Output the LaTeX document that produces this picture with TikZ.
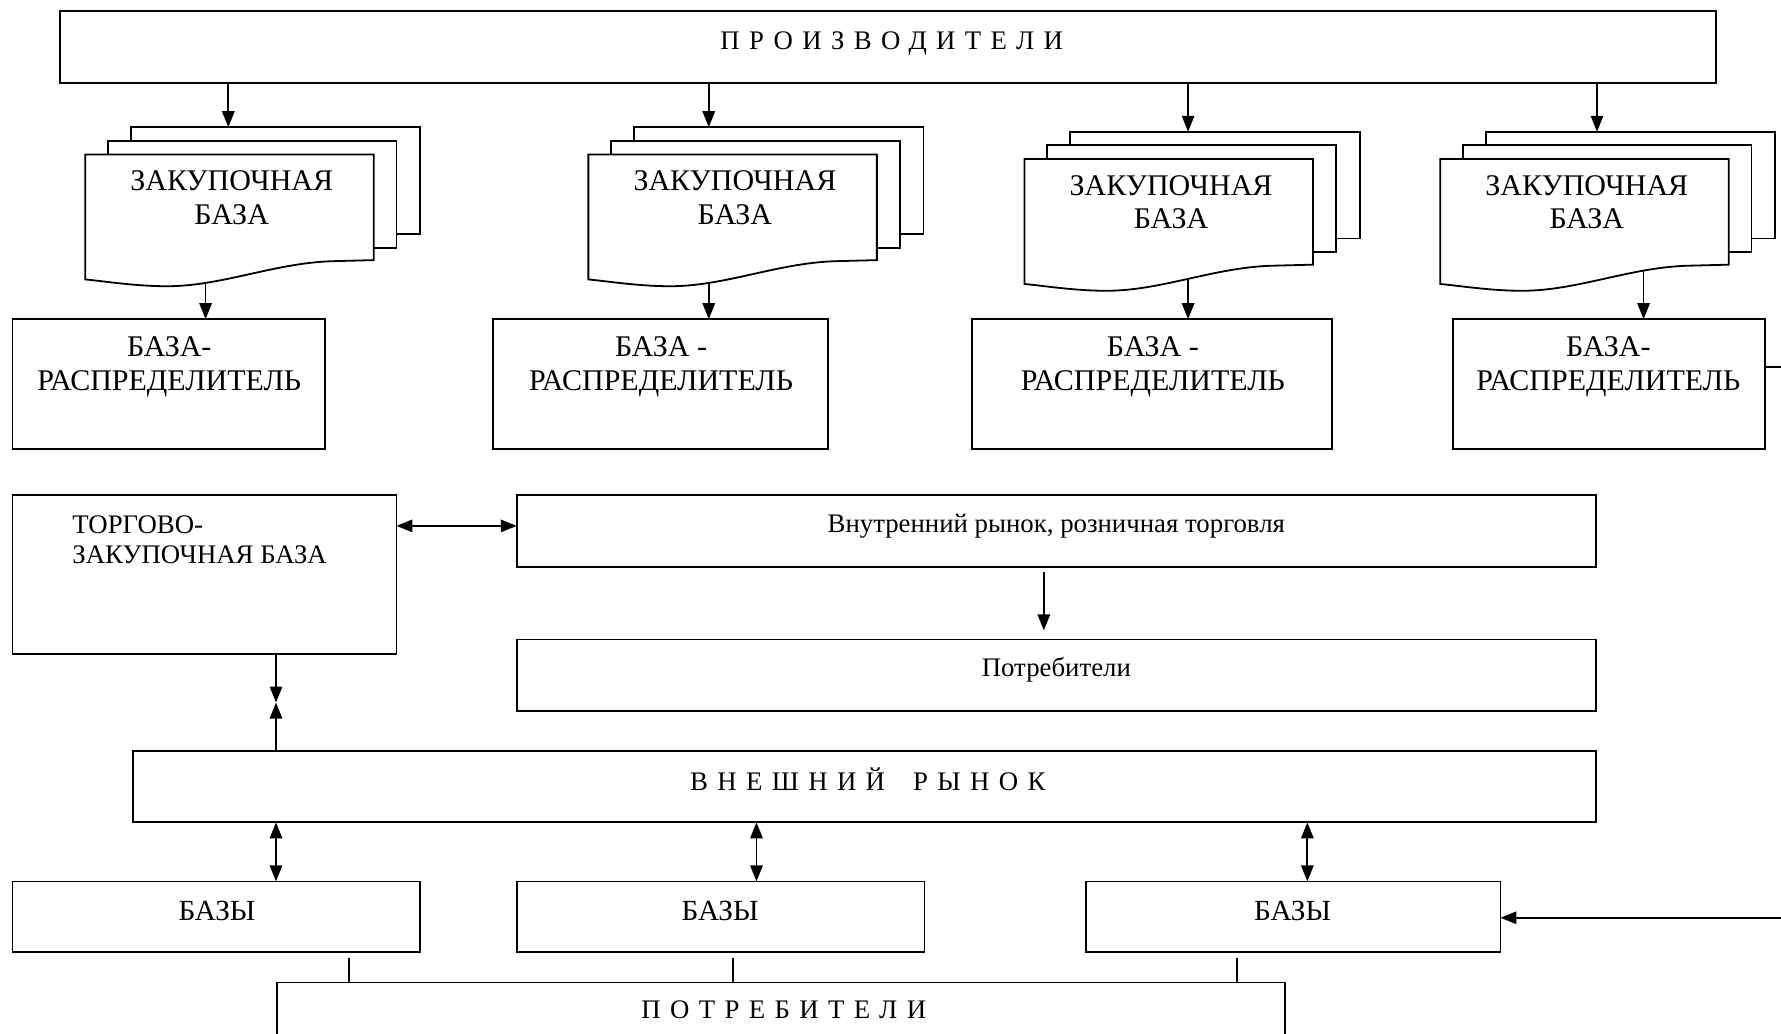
\documentclass[tikz,border=0pt]{standalone}
\usepackage{fontspec}
\setmainfont{Liberation Serif}
\newfontfamily\spaced[LetterSpace=35]{Liberation Serif}
\usetikzlibrary{arrows.meta,calc}
\newcommand\U{0.5679pt}
\newcommand\zbcard[2]{%
  \draw[fill=white] (#1+40,#2-24) rectangle (#1+295,#2+70);
  \draw[fill=white] (#1+20,#2-12) rectangle (#1+274,#2+82);
  \draw[fill=white] (#1,#2) -- (#1+254,#2) -- (#1+254,#2+93) -- (#1+216,#2+94)
    .. controls (#1+165,#2+96) and (#1+120,#2+116) .. (#1+72,#2+116)
    .. controls (#1+45,#2+116) and (#1+20,#2+112) .. (#1,#2+110) -- cycle;
}
\begin{document}
\begin{tikzpicture}[x=0.5679pt,y=-0.5679pt,
  line width=0.9pt,
  box/.style 2 args={draw, fill=white, inner sep=0pt, outer sep=0pt,
    minimum width=#1*\U, minimum height=#2*\U},
  big/.style={inner sep=0pt, align=center, font=\fontsize{15}{16.8}\selectfont},
  mid/.style={inner sep=0pt, align=center, font=\fontsize{13.4}{15}\selectfont},
  sp/.style={inner sep=0pt, font=\fontsize{13.4}{15}\selectfont\spaced},
  tip/.tip={Triangle[length=8pt,width=6.2pt]},
  arr/.style={-tip},
  darr/.style={tip-tip},
]
\useasboundingbox (0,0) rectangle (1568,910);
\clip (0,0) rectangle (1568,910);

% producers
\node[box={1458}{63}] (prod) at (782,41.5) {};
\node[sp] (prodt) at (785,38) {ПРОИЗВОДИТЕЛИ};

% distribution bases
\node[box={275}{114}] (br1) at (148.5,338) {};
\node[box={295}{114}] (br2) at (581.5,338) {};
\node[box={317}{114}] (br3) at (1014.5,338) {};
\node[box={275}{114}] (br4) at (1416.5,338) {};
\node[big] (br1t) at (149,323) {БАЗА-\\РАСПРЕДЕЛИТЕЛЬ};
\node[big] (br2t) at (582,323) {БАЗА -\\РАСПРЕДЕЛИТЕЛЬ};
\node[big] (br3t) at (1015,323) {БАЗА -\\РАСПРЕДЕЛИТЕЛЬ};
\node[big] (br4t) at (1416,323) {БАЗА-\\РАСПРЕДЕЛИТЕЛЬ};

% arrows from purchase bases down (start hidden under the cards)
\coordinate (zs1) at (181,220);
\coordinate (zs2) at (624,220);
\coordinate (zs3) at (1046,224);
\coordinate (zs4) at (1447,224);
\draw[arr] (zs1) -- (br1.north -| zs1);
\draw[arr] (zs2) -- (br2.north -| zs2);
\draw[arr] (zs3) -- (br3.north -| zs3);
\draw[arr] (zs4) -- (br4.north -| zs4);

% purchase bases (multi-document shapes)
\zbcard{75}{136}
\zbcard{518}{136}
\zbcard{902}{140}
\zbcard{1268}{140}
\node[big] (zb1) at (204,174) {ЗАКУПОЧНАЯ\\БАЗА};
\node[big] (zb2) at (647,174) {ЗАКУПОЧНАЯ\\БАЗА};
\node[big] (zb3) at (1031,178) {ЗАКУПОЧНАЯ\\БАЗА};
\node[big] (zb4) at (1397,178) {ЗАКУПОЧНАЯ\\БАЗА};
\coordinate (zt1) at (201,112);
\coordinate (zt2) at (624,112);
\coordinate (zt3) at (1046,116);
\coordinate (zt4) at (1406,116);
\draw[arr] (prod.south -| zt1) -- (zt1);
\draw[arr] (prod.south -| zt2) -- (zt2);
\draw[arr] (prod.south -| zt3) -- (zt3);
\draw[arr] (prod.south -| zt4) -- (zt4);

% middle row
\node[box={338}{140}] (tzb) at (180,506) {};
\node[inner sep=0pt, align=left, anchor=west, font=\fontsize{13.4}{14.8}\selectfont] (tzbt) at (63,475) {ТОРГОВО-\\ЗАКУПОЧНАЯ БАЗА};
\node[box={950}{63}] (vr) at (930,467.5) {};
\node[mid] (vrt) at (930,463) {Внутренний рынок, розничная торговля};
\node[box={950}{63}] (pot) at (930,594.5) {};
\node[mid] (pott) at (930,590) {Потребители};
\draw[darr] (tzb.east |- 0,463) -- (vr.west |- 0,463);
\draw[arr, shorten <=5*\U, shorten >=8*\U] (vr.south -| 919,0) -- (pot.north -| 919,0);

% external market
\node[box={1288}{63}] (vnr) at (761,692.5) {};
\node[sp] (vnrt) at (764,686) {ВНЕШНИЙ\hspace{14pt}РЫНОК};
\coordinate (mtz) at (243,618.5);
\draw[arr] (tzb.south -| mtz) -- (mtz);
\draw[arr] (vnr.north -| mtz) -- (mtz);

% bases
\node[box={359}{62}] (bz1) at (190.5,807) {};
\node[box={359}{62}] (bz2) at (634.5,807) {};
\node[box={365}{62}] (bz3) at (1138.5,807) {};
\node[big, font=\fontsize{14.6}{16}\selectfont] (bz1t) at (191,802) {БАЗЫ};
\node[big, font=\fontsize{14.6}{16}\selectfont] (bz2t) at (634,802) {БАЗЫ};
\node[big, font=\fontsize{14.6}{16}\selectfont] (bz3t) at (1138,802) {БАЗЫ};
\draw[darr] (vnr.south -| 243,0) -- (bz1.north -| 243,0);
\draw[darr] (vnr.south -| 666,0) -- (bz2.north -| 666,0);
\draw[darr] (vnr.south -| 1151,0) -- (bz3.north -| 1151,0);

% consumers
\node[box={887}{80}] (potr) at (687.5,905) {};
\node[sp] (potrt) at (690,889) {ПОТРЕБИТЕЛИ};
\draw[shorten <=5*\U] (bz1.south -| 307,0) -- (potr.north -| 307,0);
\draw[shorten <=5*\U] (bz2.south -| 645,0) -- (potr.north -| 645,0);
\draw[shorten <=5*\U] (bz3.south -| 1089,0) -- (potr.north -| 1089,0);

% connector leaving to the right and returning
\coordinate (ea) at (1580,323);
\coordinate (eb) at (1580,808);
\draw (br4.east |- ea) -- (ea);
\draw[arr] (eb) -- (bz3.east |- eb);
\end{tikzpicture}
\end{document}
